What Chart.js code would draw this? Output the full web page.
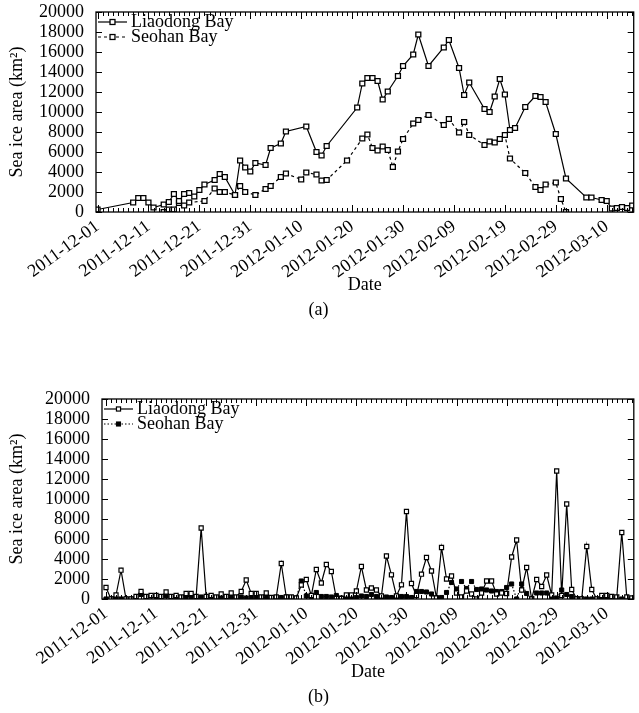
<!DOCTYPE html>
<html>
<head>
<meta charset="utf-8">
<script src="https://cdn.jsdelivr.net/npm/chart.js@4.4.1/dist/chart.umd.min.js"></script>
<style>
  html, body { margin: 0; padding: 0; background: #fff; overflow: hidden; }
  canvas { position: absolute; left: 0; }
  #chartA { top: 0; }
  #chartB { top: 387px; }
</style>
</head>
<body>
<canvas id="chartA" width="639" height="330"></canvas>
<canvas id="chartB" width="639" height="326"></canvas>
<script>
// x values are days after 2011-12-01
const tickDays = [0, 10, 20, 30, 40, 50, 60, 70, 80, 90, 100];
const tickLabels = ['2011-12-01', '2011-12-11', '2011-12-21', '2011-12-31', '2012-01-10', '2012-01-20',
    '2012-01-30', '2012-02-09', '2012-02-19', '2012-02-29', '2012-03-10'];
const areaTicks = [0, 2000, 4000, 6000, 8000, 10000, 12000, 14000, 16000, 18000, 20000];

// (a) observed dates only
const liaodongDaysA = [0, 7, 8, 9, 10, 11, 13, 14, 15, 16, 17, 18, 19, 20, 21, 23, 24, 25, 27, 28, 29, 30, 31, 33,
    34, 36, 37, 41, 43, 44, 45, 51, 52, 53, 54, 55, 56, 57, 59, 60, 62, 63, 65, 68, 69, 71, 72, 73, 76, 77, 78,
    79, 80, 81, 82, 84, 86, 87, 88, 90, 92, 96, 97, 99, 100, 101, 102, 103, 104, 105];
const liaodongAreaA = [250, 950, 1400, 1400, 950, 450, 750, 1000, 1800, 1100, 1800, 1900, 1550, 2200, 2750, 3200,
    3800, 3500, 1700, 5150, 4450, 4050, 4900, 4700, 6400, 6850, 8050, 8550, 6000, 5650, 6600, 10450, 12850,
    13400, 13400, 13100, 11250, 12050, 13600, 14600, 15750, 17750, 14600, 16450, 17200, 14400, 11700, 12950,
    10300, 10000, 11550, 13300, 11750, 8200, 8400, 10500, 11600, 11500, 11000, 7800, 3350, 1450, 1450, 1200,
    1100, 350, 400, 500, 400, 650];
const seohanDaysA = [13, 14, 15, 16, 17, 18, 21, 23, 24, 25, 27, 28, 29, 31, 33, 34, 36, 37, 40, 41, 43, 44, 45,
    49, 52, 53, 54, 55, 56, 57, 58, 59, 60, 62, 63, 65, 68, 69, 71, 72, 73, 76, 77, 78, 79, 80, 81, 84, 86, 87,
    88, 90, 91, 92];
const seohanAreaA = [0, 250, 250, 900, 650, 950, 1100, 2350, 2000, 2000, 1700, 2600, 2000, 1700, 2300, 2600, 3500,
    3850, 3250, 3950, 3750, 3150, 3200, 5150, 7350, 7750, 6400, 6150, 6550, 6200, 4500, 6050, 7300, 8850, 9200,
    9700, 8700, 9300, 7950, 9000, 7700, 6700, 7050, 6950, 7300, 7700, 5350, 3900, 2500, 2200, 2750, 2950, 1300, 0];

// (b) one value per day, 2011-12-01 .. 2012-03-15
const liaodongAreaB = [1150, 0, 400, 2880, 0, 0, 250, 750, 250, 350, 350, 250, 700, 250, 350, 200, 550, 550, 250,
    7100, 250, 350, 200, 500, 250, 600, 200, 750, 1900, 550, 550, 200, 600, 150, 200, 3550, 200, 200, 100, 1400,
    1950, 350, 2950, 1600, 3450, 2750, 50, 50, 400, 400, 800, 3250, 900, 1100, 900, 300, 4300, 2420, 300, 1420,
    8750, 1550, 350, 2480, 4150, 2800, 100, 5150, 2000, 2300, 600, 200, 800, 500, 0, 600, 1800, 1800, 500, 600,
    550, 4200, 5900, 900, 3150, 0, 1950, 1250, 2400, 400, 12800, 350, 9500, 950, 0, 0, 5250, 950, 0, 350, 350,
    250, 200, 6650, 200, 100];
const seohanAreaB = [0, 0, 50, 0, 0, 0, 150, 450, 200, 300, 250, 200, 300, 150, 250, 150, 250, 250, 150, 200, 150,
    250, 100, 200, 150, 150, 100, 200, 100, 100, 100, 150, 150, 100, 150, 150, 200, 150, 100, 1800, 300, 150, 650,
    250, 250, 200, 350, 100, 50, 100, 150, 300, 250, 450, 250, 200, 200, 150, 100, 250, 250, 150, 750, 750, 700,
    500, 100, 150, 650, 1650, 1000, 1750, 1050, 1750, 950, 1000, 900, 800, 750, 750, 1150, 1500, 0, 1500, 550, 0,
    600, 600, 600, 100, 100, 900, 450, 250, 50, 0, 0, 0, 0, 0, 0, 0, 0, 0, 0, 0];

const FONT = 'Liberation Serif, Times New Roman, serif';

function pairUp(xs, ys) {
    return xs.map((x, i) => ({ x: x, y: ys[i] }));
}

// frame with inward ticks on all four sides, plus the legend inside the plot
const framePlugin = {
    id: 'frame',
    afterDraw(chart) {
        const ctx = chart.ctx;
        const { left, right, top, bottom } = chart.chartArea;
        const xs = chart.scales.x;
        const ys = chart.scales.y;
        ctx.save();
        ctx.strokeStyle = '#000';
        ctx.lineWidth = 1.3;
        ctx.strokeRect(left, top, right - left, bottom - top);

        ctx.lineWidth = 1;
        ctx.beginPath();
        for (let d = 0; d <= 105; d++) {
            const px = Math.round(xs.getPixelForValue(d)) + 0.5;
            const len = d % 10 === 0 ? 7 : 4;
            ctx.moveTo(px, bottom); ctx.lineTo(px, bottom - len);
            ctx.moveTo(px, top); ctx.lineTo(px, top + len);
        }
        areaTicks.forEach(v => {
            const py = Math.round(ys.getPixelForValue(v)) + 0.5;
            ctx.moveTo(left, py); ctx.lineTo(left + 6, py);
            ctx.moveTo(right, py); ctx.lineTo(right - 6, py);
        });
        ctx.stroke();

        // legend
        ctx.font = '18px ' + FONT;
        ctx.textBaseline = 'middle';
        chart.data.datasets.forEach((ds, i) => {
            const y = top + 10 + i * 15;
            const x0 = left + 2, x1 = left + 31, xm = (x0 + x1) / 2;
            ctx.strokeStyle = '#000';
            ctx.lineWidth = ds.borderWidth;
            ctx.setLineDash(ds.borderDash || []);
            ctx.beginPath();
            ctx.moveTo(x0, y); ctx.lineTo(x1, y);
            ctx.stroke();
            ctx.setLineDash([]);
            const s = ds.pointRadius * Math.SQRT2;
            ctx.fillStyle = ds.pointBackgroundColor;
            ctx.fillRect(xm - s / 2, y - s / 2, s, s);
            ctx.lineWidth = ds.pointBorderWidth;
            ctx.strokeRect(xm - s / 2, y - s / 2, s, s);
            ctx.fillStyle = '#000';
            ctx.fillText(ds.label, x1 + 4, y);
        });
        ctx.restore();
    }
};

function makeChart(id, datasets, caption, bottomPad, yWidth, xMin, xMax) {
    return new Chart(document.getElementById(id), {
        type: 'line',
        data: { datasets: datasets },
        options: {
            responsive: false,
            animation: false,
            layout: { padding: { top: 12, right: 2, left: 0, bottom: 0 } },
            plugins: {
                legend: { display: false },
                tooltip: { enabled: false },
                title: {
                    display: true,
                    text: caption,
                    position: 'bottom',
                    color: '#000',
                    font: { family: FONT, size: 18, weight: 'normal' },
                    padding: { top: 3, bottom: bottomPad }
                }
            },
            scales: {
                x: {
                    type: 'linear',
                    min: xMin,
                    max: xMax,
                    grid: { display: false, drawTicks: false },
                    border: { display: false },
                    afterBuildTicks: (scale) => {
                        scale.ticks = tickDays.map(d => ({ value: d }));
                    },
                    afterFit: (scale) => {
                        scale.height = 84;
                        scale.paddingRight = 0;
                    },
                    ticks: {
                        autoSkip: false,
                        minRotation: 36,
                        maxRotation: 36,
                        padding: 4,
                        color: '#000',
                        font: { family: FONT, size: 18 },
                        callback: (v) => tickLabels[tickDays.indexOf(v)]
                    },
                    title: {
                        display: true,
                        text: 'Date',
                        color: '#000',
                        font: { family: FONT, size: 18 },
                        padding: { top: 0, bottom: 0 }
                    }
                },
                y: {
                    min: 0,
                    max: 20000,
                    grid: { display: false, drawTicks: false },
                    border: { display: false },
                    afterBuildTicks: (scale) => {
                        scale.ticks = areaTicks.map(v => ({ value: v }));
                    },
                    afterFit: (scale) => {
                        scale.width = yWidth;
                        scale.paddingTop = 0;
                        scale.paddingBottom = 0;
                    },
                    ticks: {
                        autoSkip: false,
                        padding: 12,
                        color: '#000',
                        font: { family: FONT, size: 18 },
                        callback: (v) => String(v)
                    },
                    title: {
                        display: true,
                        text: 'Sea ice area (km\u00b2)',
                        color: '#000',
                        font: { family: FONT, size: 18 },
                        padding: { top: 6, bottom: 0 }
                    }
                }
            }
        },
        plugins: [framePlugin]
    });
}

const lineStyle = { borderColor: '#000', tension: 0, spanGaps: true, pointStyle: 'rect', pointBorderColor: '#000' };

makeChart('chartA', [
    Object.assign({}, lineStyle, {
        label: 'Liaodong Bay',
        data: pairUp(liaodongDaysA, liaodongAreaA),
        borderWidth: 1.2,
        pointRadius: 3.5,
        pointBorderWidth: 1.3,
        pointBackgroundColor: '#fff'
    }),
    Object.assign({}, lineStyle, {
        label: 'Seohan Bay',
        data: pairUp(seohanDaysA, seohanAreaA),
        borderWidth: 1.2,
        borderDash: [3, 3],
        pointRadius: 3.5,
        pointBorderWidth: 1.3,
        pointBackgroundColor: '#fff'
    })
], '(a)', 9.4, 96, -0.3, 105.3);

const dailyDays = liaodongAreaB.map((v, i) => i);

makeChart('chartB', [
    Object.assign({}, lineStyle, {
        label: 'Liaodong Bay',
        data: pairUp(dailyDays, liaodongAreaB),
        borderWidth: 1.2,
        pointRadius: 2.9,
        pointBorderWidth: 1.2,
        pointBackgroundColor: '#fff'
    }),
    Object.assign({}, lineStyle, {
        label: 'Seohan Bay',
        data: pairUp(dailyDays, seohanAreaB),
        borderWidth: 1.2,
        borderDash: [1.5, 2],
        pointRadius: 2.9,
        pointBorderWidth: 1,
        pointBackgroundColor: '#000'
    })
], '(b)', 5.4, 102, -0.8, 105.4);
</script>
</body>
</html>
